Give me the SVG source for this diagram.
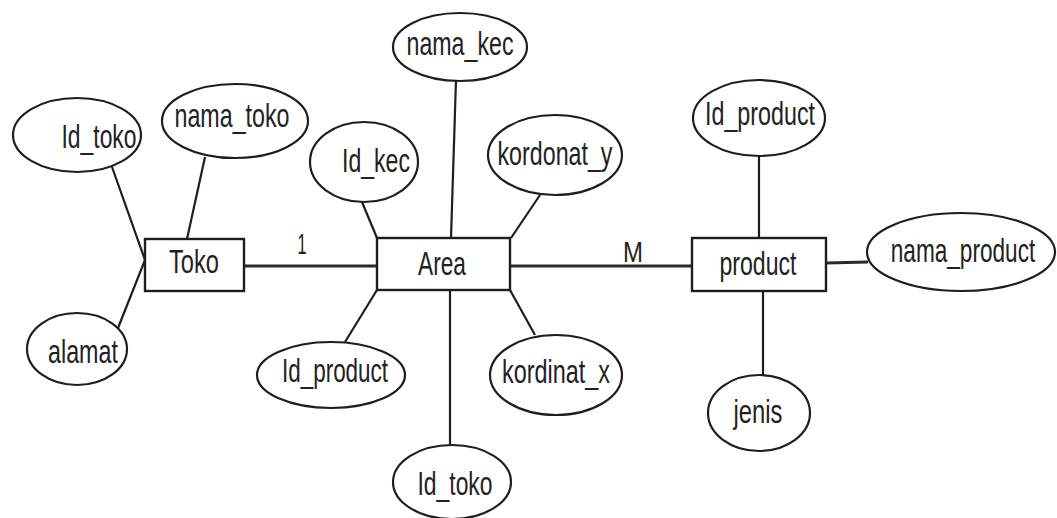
<svg xmlns="http://www.w3.org/2000/svg" width="1057" height="518" viewBox="0 0 1057 518">
  <style>
    .ent { fill: #ffffff; stroke: #1e1e1e; stroke-width: 2.4; }
    .att { fill: #ffffff; stroke: #1e1e1e; stroke-width: 2.2; }
    .lnk { stroke: #1e1e1e; stroke-width: 2.2; fill: none; }
    .lnk-h { stroke: #2a2a2a; stroke-width: 3; fill: none; }
    text { font-family: "Liberation Sans", Arial, sans-serif; font-size: 34px; fill: #222222; text-anchor: middle; }
    .card { font-size: 29px; }
  </style>
  <rect width="1057" height="518" fill="#ffffff"/>

  <!-- connectors -->
  <g id="connectors">
    <!-- Toko attributes -->
    <line class="lnk" x1="112" y1="167" x2="145" y2="260"/>
    <line class="lnk" x1="205" y1="157" x2="187" y2="239"/>
    <line class="lnk" x1="118" y1="328" x2="145" y2="260"/>
    <!-- relationships -->
    <line class="lnk-h" x1="244" y1="266" x2="377" y2="266"/>
    <line class="lnk-h" x1="510" y1="266" x2="692" y2="266"/>
    <!-- Area attributes -->
    <line class="lnk" x1="456" y1="80" x2="451" y2="238"/>
    <line class="lnk" x1="362" y1="202" x2="377" y2="238"/>
    <line class="lnk" x1="540" y1="195" x2="511" y2="238"/>
    <line class="lnk" x1="345" y1="342" x2="377" y2="290"/>
    <line class="lnk" x1="535" y1="335" x2="510" y2="290"/>
    <line class="lnk" x1="450" y1="290" x2="450" y2="445"/>
    <!-- product attributes -->
    <line class="lnk" x1="759" y1="155" x2="759" y2="238"/>
    <line class="lnk-h" x1="826" y1="263" x2="868" y2="262"/>
    <line class="lnk" x1="763" y1="291" x2="763" y2="387"/>
    <!-- cardinalities -->
    <text class="card" x="302" y="254" textLength="9" lengthAdjust="spacingAndGlyphs">1</text>
    <text class="card" x="633" y="262" textLength="20" lengthAdjust="spacingAndGlyphs">M</text>
  </g>

  <!-- entities -->
  <g id="toko">
    <rect class="ent" x="145" y="239" width="99" height="52"/>
    <text x="194" y="273" textLength="50" lengthAdjust="spacingAndGlyphs">Toko</text>
  </g>
  <g id="area">
    <rect class="ent" x="377" y="238" width="133" height="52"/>
    <text x="442" y="275" textLength="48" lengthAdjust="spacingAndGlyphs">Area</text>
  </g>
  <g id="product">
    <rect class="ent" x="692" y="238" width="134" height="53"/>
    <text x="758" y="275" textLength="77" lengthAdjust="spacingAndGlyphs">product</text>
  </g>

  <!-- Toko attributes -->
  <g id="toko-id">
    <ellipse class="att" cx="77" cy="135" rx="64" ry="37"/>
    <text x="99" y="148" textLength="75" lengthAdjust="spacingAndGlyphs">Id_toko</text>
  </g>
  <g id="toko-nama">
    <ellipse class="att" cx="235" cy="121" rx="73" ry="37"/>
    <text x="232" y="127" textLength="115" lengthAdjust="spacingAndGlyphs">nama_toko</text>
  </g>
  <g id="toko-alamat">
    <ellipse class="att" cx="77" cy="349" rx="50" ry="36"/>
    <text x="83" y="363" textLength="70" lengthAdjust="spacingAndGlyphs">alamat</text>
  </g>

  <!-- Area attributes -->
  <g id="area-nama-kec">
    <ellipse class="att" cx="460" cy="47" rx="67" ry="34"/>
    <text x="460" y="55" textLength="107" lengthAdjust="spacingAndGlyphs">nama_kec</text>
  </g>
  <g id="area-id-kec">
    <ellipse class="att" cx="364" cy="162" rx="54" ry="40"/>
    <text x="376" y="172" textLength="68" lengthAdjust="spacingAndGlyphs">Id_kec</text>
  </g>
  <g id="area-kordonat-y">
    <ellipse class="att" cx="555" cy="155" rx="67" ry="40"/>
    <text x="555" y="165" textLength="115" lengthAdjust="spacingAndGlyphs">kordonat_y</text>
  </g>
  <g id="area-id-product">
    <ellipse class="att" cx="331" cy="375" rx="74" ry="33"/>
    <text x="335" y="382" textLength="106" lengthAdjust="spacingAndGlyphs">Id_product</text>
  </g>
  <g id="area-kordinat-x">
    <ellipse class="att" cx="556" cy="375" rx="66" ry="40"/>
    <text x="556" y="383" textLength="108" lengthAdjust="spacingAndGlyphs">kordinat_x</text>
  </g>
  <g id="area-id-toko">
    <ellipse class="att" cx="452" cy="482" rx="59" ry="37"/>
    <text x="455" y="495" textLength="75" lengthAdjust="spacingAndGlyphs">Id_toko</text>
  </g>

  <!-- product attributes -->
  <g id="product-id">
    <ellipse class="att" cx="759" cy="118" rx="66" ry="38"/>
    <text x="760" y="125" textLength="110" lengthAdjust="spacingAndGlyphs">Id_product</text>
  </g>
  <g id="product-nama">
    <ellipse class="att" cx="961" cy="252" rx="94" ry="39"/>
    <text transform="translate(963 262) scale(0.665 1)" x="0" y="0">nama_product</text>
  </g>
  <g id="product-jenis">
    <ellipse class="att" cx="759" cy="413" rx="51" ry="38"/>
    <text x="758" y="423" textLength="49" lengthAdjust="spacingAndGlyphs">jenis</text>
  </g>
</svg>
